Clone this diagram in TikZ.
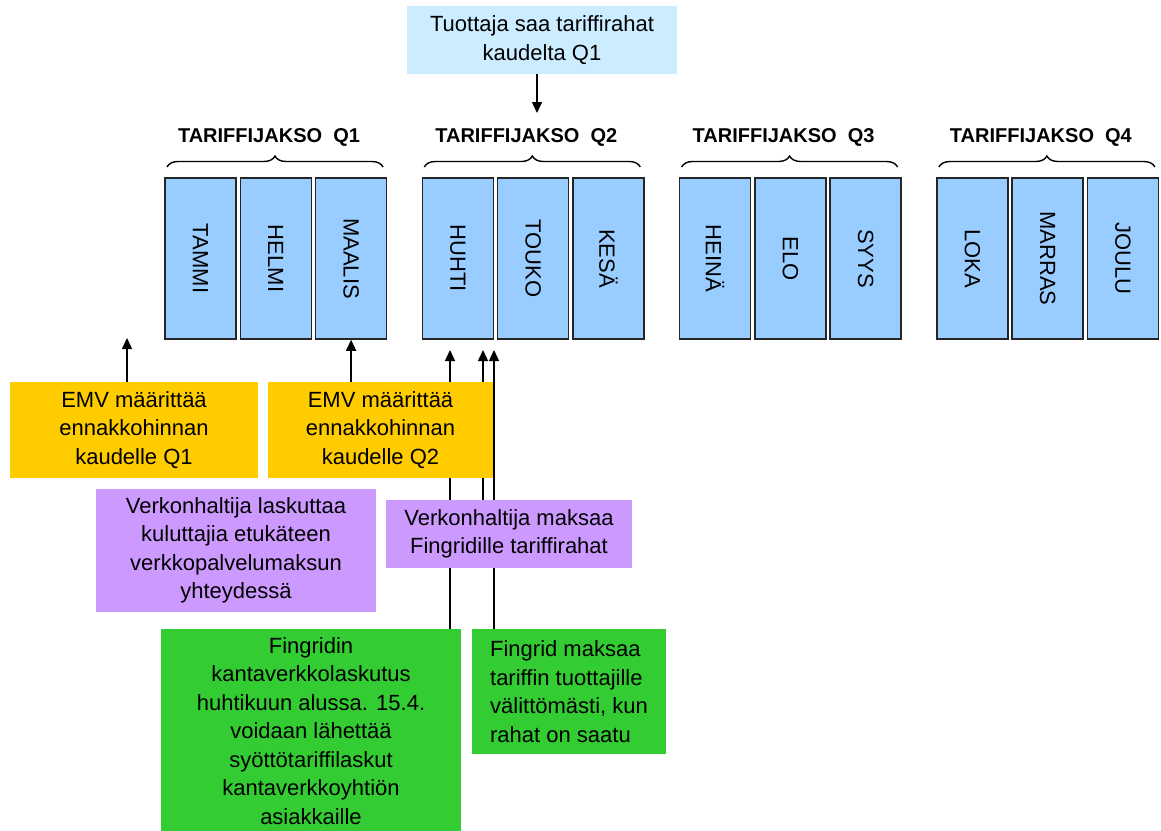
\documentclass[tikz,border=0pt]{standalone}
\usepackage{fontspec}
\setmainfont{Liberation Sans}
\usetikzlibrary{arrows.meta,decorations.pathreplacing,backgrounds}
\definecolor{vaalea}{HTML}{CCECFF}
\definecolor{kkvari}{HTML}{99CCFF}
\definecolor{keltainen}{HTML}{FFCC00}
\definecolor{violetti}{HTML}{CC99FF}
\definecolor{vihrea}{HTML}{33CC33}
\tikzset{
  laatikko/.style={inner sep=0pt, align=center, font=\fontsize{22}{28.5}\selectfont},
  kuukausi/.style={draw=black!85, line width=1.5pt, fill=kkvari, inner sep=0pt,
    minimum width=71pt, minimum height=161pt, font=\fontsize{22}{26}\selectfont},
  otsikko/.style={font=\bfseries\fontsize{20}{24}\selectfont},
  sulje/.style={line width=1.4pt, decorate, decoration={brace, amplitude=11pt}},
  nuoli/.style={line width=1.5pt, -{Triangle[length=11pt,width=10pt]}}
}
\begin{document}
\begin{tikzpicture}[x=1pt,y=-1pt]
  \useasboundingbox (0,0) rectangle (1161,830);
  \node[laatikko, fill=vaalea, minimum width=270pt, minimum height=68pt] (tuottaja) at (542,40) {Tuottaja saa tariffirahat\\kaudelta Q1};
  \foreach \q in {1,...,4}{
    \pgfmathsetmacro\xa{165+257.3*(\q-1)}
    \node[otsikko] (jakso\q) at (\xa+104,137.5) {TARIFFIJAKSO\ \ Q\q};
    \draw[sulje] (\xa+2,167) -- (\xa+218,167);
  }
  \foreach \kk [count=\i from 0] in {TAMMI,HELMI,MAALIS,HUHTI,TOUKO,KESÄ,HEINÄ,ELO,SYYS,LOKA,MARRAS,JOULU}{
    \pgfmathsetmacro\xk{200.5+257.3*int(\i/3)+75.3*mod(\i,3)}
    \node[kuukausi] (kk\i) at (\xk,258.5) {\rotatebox{-90}{\kk}};
  }
  \node[laatikko, fill=keltainen, minimum width=248pt, minimum height=96pt] (emv1) at (134,430) {EMV määrittää\\ennakkohinnan\\kaudelle Q1};
  \node[laatikko, fill=keltainen, minimum width=225pt, minimum height=96pt] (emv2) at (380.5,430) {EMV määrittää\\ennakkohinnan\\kaudelle Q2};
  \node[laatikko, fill=violetti, minimum width=280pt, minimum height=123pt] (vh1) at (236,550.5) {Verkonhaltija laskuttaa\\kuluttajia etukäteen\\verkkopalvelumaksun\\yhteydessä};
  \node[laatikko, fill=violetti, minimum width=246pt, minimum height=68pt] (vh2) at (509,534) {Verkonhaltija maksaa\\Fingridille tariffirahat};
  \node[laatikko, fill=vihrea, minimum width=300pt, minimum height=204pt] (fg1) at (311,731) {Fingridin\\kantaverkkolaskutus\\huhtikuun alussa. 15.4.\\voidaan lähettää\\syöttötariffilaskut\\kantaverkkoyhtiön\\asiakkaille};
  \node[laatikko, fill=vihrea, minimum width=194pt, minimum height=125pt, align=left] (fg2) at (569,691.5) {Fingrid maksaa\\tariffin tuottajille\\välittömästi, kun\\rahat on saatu};
  \coordinate (p0) at (537,113);
  \coordinate (p1) at (127,338);
  \coordinate (p3) at (450,350);
  \coordinate (p4) at (483,350);
  \coordinate (p5) at (494,350);
  \begin{scope}[on background layer]
    \draw[nuoli] (tuottaja.south -| p0) -- (p0);
    \draw[nuoli] (p1 |- emv1.north) -- (p1);
    \draw[nuoli] (emv2.north -| kk2.south) -- (kk2.south);
    \draw[nuoli] (p3 |- fg1.north) -- (p3);
    \draw[nuoli] (p4 |- vh2.north) -- (p4);
    \draw[nuoli] (p5 |- fg2.north) -- (p5);
  \end{scope}
\end{tikzpicture}
\end{document}
